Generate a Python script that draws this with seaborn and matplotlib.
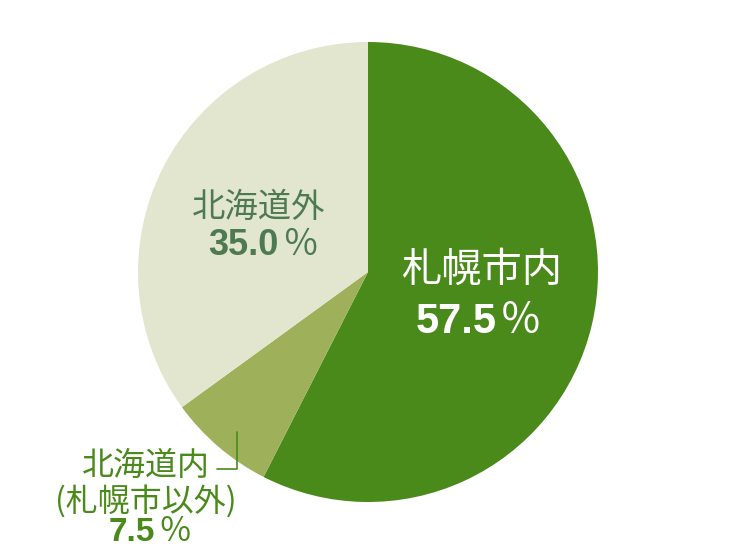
import matplotlib
matplotlib.use("Agg")
import matplotlib.pyplot as plt
import seaborn as sns

# data
regions = ["札幌市内", "北海道内\n(札幌市以外)", "北海道外"]
shares = [57.5, 7.5, 35.0]
share_labels = ["57.5", "7.5", "35.0"]
colors = ["#4a8a1a", "#9eb05a", "#e2e6cf"]

sns.set_theme(style="white")
plt.rcParams["font.family"] = ["Noto Sans CJK JP", "DejaVu Sans"]
num_font = ["Liberation Sans", "DejaVu Sans"]

W, H = 750, 551
fig = plt.figure(figsize=(W / 100, H / 100), dpi=100)
cx, cy, r = 368, 272, 230
ax = fig.add_axes([(cx - r) / W, (H - cy - r) / H, 2 * r / W, 2 * r / H])
ax.pie(shares, colors=colors, startangle=90, counterclock=False,
       radius=1, wedgeprops=dict(linewidth=0))
ax.set_xlim(-1, 1)
ax.set_ylim(-1, 1)
ax.set_aspect("equal")
ax.axis("off")


def px(x, y):
    return x / W, 1 - y / H


def percent(x_right, y_base, value, color, size):
    # bold digits, then a thin full-width ％ sign
    fig.text(*px(x_right, y_base), value, color=color, fontsize=size,
             fontweight="bold", family=num_font, ha="right", va="baseline")
    fig.text(*px(x_right + 3, y_base), "％", color=color,
             fontsize=size, ha="left", va="baseline")


# 札幌市内
fig.text(*px(482, 270), regions[0], color="white", fontsize=29,
         ha="center", va="center")
percent(497, 333, share_labels[0], "white", 30)

# 北海道外
fig.text(*px(259, 207), regions[2], color="#4e7a52", fontsize=24,
         ha="center", va="center")
percent(279, 255, share_labels[2], "#4e7a52", 26)

# 北海道内 (札幌市以外)
line1, line2 = regions[1].split("\n")
fig.text(*px(146, 466), line1, color="#4a8a1a", fontsize=23,
         ha="center", va="center")
fig.text(*px(146, 501), line2, color="#4a8a1a", fontsize=23,
         ha="center", va="center")
percent(155, 541, share_labels[1], "#4a8a1a", 24)

# leader line
lx = [217 / W, 237 / W, 237 / W]
ly = [1 - 469 / H, 1 - 469 / H, 1 - 432 / H]
fig.add_artist(plt.Line2D(lx, ly, color="#4a8a1a", linewidth=1.2,
                          transform=fig.transFigure))

fig.savefig("out.png", dpi=100)
